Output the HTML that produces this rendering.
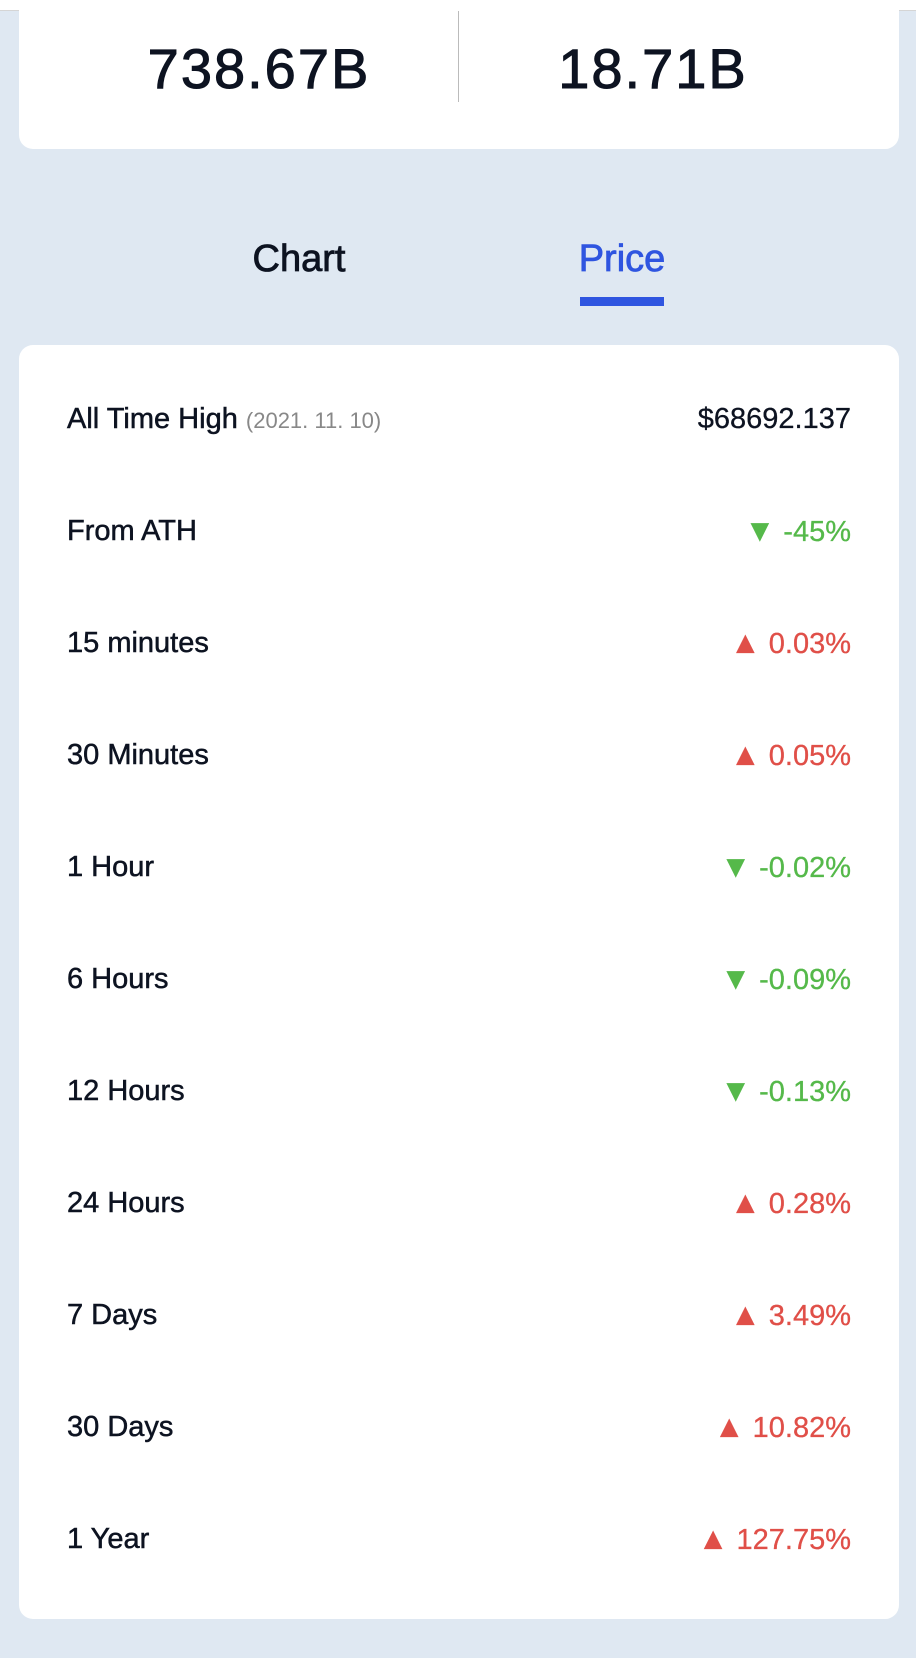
<!DOCTYPE html>
<html><head><meta charset="utf-8">
<style>
body{margin:0;width:916px;height:1658px;background:#dfe8f2;font-family:"Liberation Sans",sans-serif;position:relative;overflow:hidden;color:#0d1321}
.topbar{position:absolute;left:0;top:0;width:916px;height:10px;background:#fff;border-bottom:1px solid #d5d5d5}
.card1{position:absolute;left:19px;top:-20px;width:880px;height:169px;background:#fff;border-radius:14px}
.big{position:absolute;top:36px;font-size:56px;letter-spacing:2px;transform:translateX(-50%);-webkit-text-stroke:1px #0d1321}
.div{position:absolute;left:458px;top:11px;width:1px;height:91px;background:#bbb}
.tab{position:absolute;top:238px;font-size:38px;transform:translateX(-50%);-webkit-text-stroke:0.8px currentColor}
.ul{position:absolute;left:580px;top:297px;width:84px;height:9px;background:#2f55e0}
.card2{position:absolute;left:19px;top:345px;width:880px;height:1274px;background:#fff;border-radius:14px}
.row{position:absolute;left:67px;width:784px;height:40px;font-size:29px;line-height:40px;-webkit-text-stroke:0.5px #0d1321}
.row .v{position:absolute;right:0;top:0;font-size:29px;-webkit-text-stroke:0.3px currentColor}
.g{color:#55b94a}.r{color:#e04f48}
.d{color:#888;font-size:22px;-webkit-text-stroke:0}
.t{font-size:31px}
</style></head><body>
<div class="topbar"></div>
<div class="card1"></div>
<div class="big" style="left:259px">738.67B</div>
<div class="div"></div>
<div class="big" style="left:653px">18.71B</div>
<div class="tab" style="left:299px;color:#0d1321">Chart</div>
<div class="tab" style="left:622px;color:#2f55e0">Price</div>
<div class="ul"></div>
<div class="card2"></div>
<div id="rows"></div>
<script>
const labels=["All Time High","From ATH","15 minutes","30 Minutes","1 Hour","6 Hours","12 Hours","24 Hours","7 Days","30 Days","1 Year"];
const values=["$68692.137","-45%","0.03%","0.05%","-0.02%","-0.09%","-0.13%","0.28%","3.49%","10.82%","127.75%"];
const dirs=["n","d","u","u","d","d","d","u","u","u","u"];
const c=document.getElementById('rows');
labels.forEach((l,i)=>{
  const r=document.createElement('div');
  r.className='row';
  r.style.top=(399+i*112)+'px';
  
  
  r.innerHTML=l+(i==0?' <span class="d">(2021. 11. 10)</span>':'');
  const v=document.createElement('span');
  v.className='v '+(dirs[i]=='d'?'g':dirs[i]=='u'?'r':'');
  
  
  v.innerHTML=(dirs[i]=='d'?'<span class="t">▼</span> ':dirs[i]=='u'?'<span class="t">▲</span> ':'')+values[i];
  if(dirs[i]=='n') v.style.color='#0d1321';
  r.appendChild(v);
  c.appendChild(r);
});
</script>
</body></html>
